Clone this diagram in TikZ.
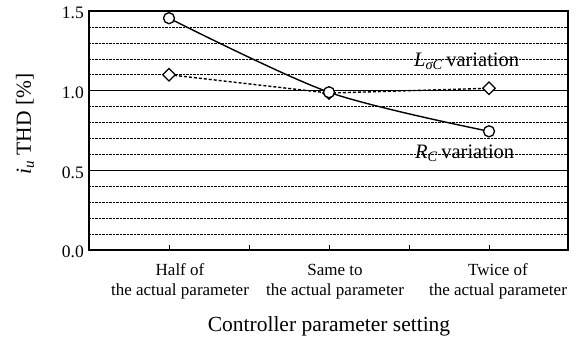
\documentclass[tikz,border=0pt]{standalone}
\usepackage{fontspec}
\setmainfont{Liberation Serif}
\usetikzlibrary{shapes.geometric}
\begin{document}
\begin{tikzpicture}[x=1pt,y=-1pt,
  gridline/.style={line width=0.5pt,dash pattern=on 0.7pt off 0.7pt},
  majorline/.style={line width=0.7pt},
  frame/.style={line width=1.5pt},
  ticklab/.style={font=\fontsize{17.5}{19}\selectfont,inner sep=0pt},
  catlab/.style={font=\fontsize{17}{19.5}\selectfont,align=center,inner sep=0pt,anchor=base},
  titlelab/.style={font=\fontsize{21.5}{24}\selectfont,inner sep=0pt},
  notelab/.style={font=\fontsize{20.5}{23}\selectfont,inner sep=0pt,anchor=base west},
  rmark/.style={circle,draw,line width=1.3pt,fill=white,minimum size=11pt,inner sep=0pt},
  lmark/.style={diamond,draw,line width=1.2pt,fill=white,minimum size=13pt,inner sep=0pt},
  rcurve/.style={line width=1.4pt},
  lcurve/.style={line width=1.4pt,dash pattern=on 3pt off 2pt}]
\useasboundingbox (0,0) rectangle (578,341);
% value v maps to y = 250 - 159.33 v
\def\yv#1{250-159.33*#1}
% horizontal grid
\foreach \v in {0.1,0.2,0.3,0.4,0.6,0.7,0.8,0.9,1.1,1.2,1.3,1.4}
  \draw[gridline] (89,{\yv{\v}}) -- (568,{\yv{\v}});
\foreach \v in {0.5,1.0}
  \draw[majorline] (89,{\yv{\v}}) -- (568,{\yv{\v}});
% frame
\draw[frame] (89,11) rectangle (568,250);
% category ticks on the bottom axis
\foreach \x in {169,249,329,409,489}
  \draw[line width=0.8pt] (\x,250) -- (\x,245);
% y tick labels
\foreach \v/\t in {0.0/0.0,0.5/0.5,1.0/1.0,1.5/1.5}
  \node[ticklab,anchor=east] (yl\t) at (84,{\yv{\v}+2}) {\t};
% category labels (anchored on the baseline of their second line)
\node[catlab] (c1) at (180,295) {Half of\\the actual parameter};
\node[catlab] (c2) at (335,295) {Same to\\the actual parameter};
\node[catlab] (c3) at (498,295) {Twice of\\the actual parameter};
% axis titles
\node[titlelab,anchor=base] (xt) at (329,331.5) {Controller parameter setting};
\node[titlelab,rotate=90] (yt) at (25,124) {\textit{i}\textsubscript{\textit{u}} THD [\%]};
% data points
\coordinate (r1) at (169,{\yv{1.455}});
\coordinate (r2) at (329,{\yv{0.99}});
\coordinate (r3) at (489,{\yv{0.745}});
\coordinate (l1) at (169,{\yv{1.10}});
\coordinate (l2) at (329,{\yv{0.985}});
\coordinate (l3) at (489,{\yv{1.015}});
% curves
\draw[lcurve] (l1) -- (l2) -- (l3);
\draw[rcurve] plot[smooth,tension=0.5] coordinates {(r1) (r2) (r3)};
% markers
\node[lmark] (ml1) at (l1) {};
\node[lmark] (ml2) at (l2) {};
\node[lmark] (ml3) at (l3) {};
\node[rmark] (mr1) at (r1) {};
\node[rmark] (mr2) at (r2) {};
\node[rmark] (mr3) at (r3) {};
% series labels
\node[notelab] (nl) at (414,66) {\textit{L}\textsubscript{\textit{σC}}\,variation};
\node[notelab] (nr) at (415,158) {\textit{R}\textsubscript{\textit{C}}\,variation};
\end{tikzpicture}
\end{document}
